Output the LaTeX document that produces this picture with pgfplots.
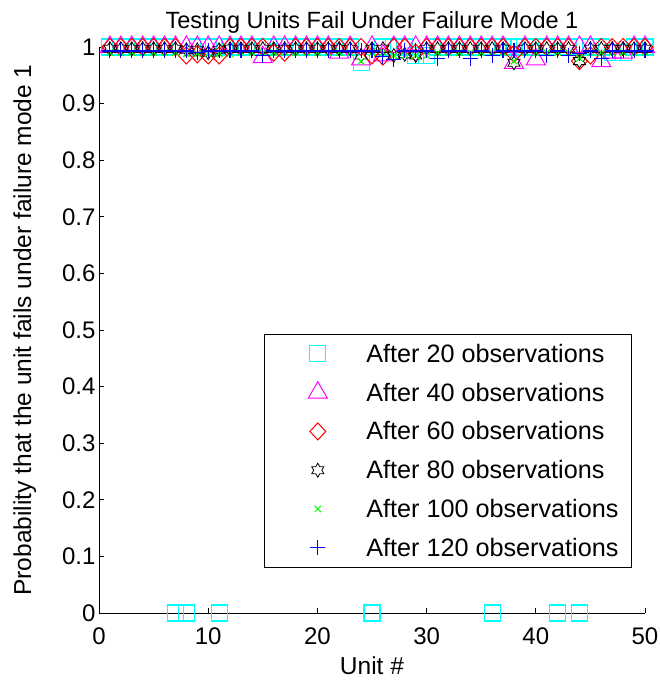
\documentclass[border=0pt]{standalone}
\usepackage{fontspec}
\setmainfont{Liberation Sans}
\usepackage{pgfplots}
\pgfplotsset{compat=1.18}
\usepackage{pgfplotstable}

\definecolor{mcyan}{rgb}{0,1,1}
\definecolor{mmag}{rgb}{1,0,1}
\definecolor{mgreen}{rgb}{0,1,0}
\definecolor{mblue}{rgb}{0,0,1}

% six-pointed star, like MATLAB's hexagram marker
\pgfdeclareplotmark{hexagram}{%
  \pgfpathmoveto{\pgfpointpolar{90}{\pgfplotmarksize}}%
  \pgfpathlineto{\pgfpointpolar{120}{0.577\pgfplotmarksize}}%
  \pgfpathlineto{\pgfpointpolar{150}{\pgfplotmarksize}}%
  \pgfpathlineto{\pgfpointpolar{180}{0.577\pgfplotmarksize}}%
  \pgfpathlineto{\pgfpointpolar{210}{\pgfplotmarksize}}%
  \pgfpathlineto{\pgfpointpolar{240}{0.577\pgfplotmarksize}}%
  \pgfpathlineto{\pgfpointpolar{270}{\pgfplotmarksize}}%
  \pgfpathlineto{\pgfpointpolar{300}{0.577\pgfplotmarksize}}%
  \pgfpathlineto{\pgfpointpolar{330}{\pgfplotmarksize}}%
  \pgfpathlineto{\pgfpointpolar{0}{0.577\pgfplotmarksize}}%
  \pgfpathlineto{\pgfpointpolar{30}{\pgfplotmarksize}}%
  \pgfpathlineto{\pgfpointpolar{60}{0.577\pgfplotmarksize}}%
  \pgfpathclose\pgfusepathqstroke}

% legend image: the mark alone, with room on both sides as in the original
\pgfplotsset{lg/.style={legend image code/.code={%
  \path (-42pt,0pt) (46pt,0pt);
  \draw[##1] plot coordinates {(0pt,0pt)};}}}

% unit, probability after 20/40/60/80/100/120 observations
\pgfplotstableread{
u  a20   a40   a60   a80   a100  a120
1  1     1     1     0.997 0.99  0.993
2  1     1     1     0.997 0.99  0.993
3  1     1     1     0.997 0.99  0.993
4  1     1     1     0.997 0.99  0.993
5  1     1     1     0.997 0.99  0.993
6  1     1     1     0.997 0.99  0.993
7  0     1     1     0.997 0.99  0.993
8  0     1     0.985 0.995 0.988 0.993
9  1     1     0.987 0.995 0.988 0.99
10 1     1     0.985 0.99  0.988 0.993
11 0     1     0.985 0.995 0.988 0.993
12 1     1     1     0.997 0.988 0.993
13 1     1     1     0.997 0.99  0.993
14 1     1     1     0.997 0.99  0.993
15 1     0.982 1     0.997 0.99  0.985
16 1     1     0.99  0.997 0.99  0.993
17 1     1     0.99  0.997 0.99  0.993
18 1     1     1     0.997 0.99  0.993
19 1     1     1     0.997 0.99  0.993
20 1     1     1     0.997 0.99  0.993
21 1     1     1     0.997 0.99  0.993
22 1     0.99  1     0.997 0.99  0.993
23 1     1     1     0.997 0.99  0.993
24 0.973 0.978 1     0.985 0.975 0.993
25 0     1     0.985 0.997 0.99  0.993
26 1     0.985 0.983 0.997 0.99  0.983
27 1     1     1     0.985 0.985 0.978
28 1     1     1     0.987 0.985 0.993
29 0.985 1     0.99  0.985 0.985 0.993
30 0.985 1     1     0.997 0.985 0.993
31 1     1     1     0.997 0.99  0.98
32 1     1     1     0.997 0.99  0.993
33 1     1     1     0.997 0.99  0.993
34 1     1     1     0.997 0.99  0.98
35 1     1     1     0.997 0.99  0.993
36 0     1     1     0.997 0.99  0.985
37 1     1     1     0.997 0.99  0.993
38 1     0.972 0.988 0.972 0.975 0.993
39 1     1     1     0.997 0.99  0.993
40 1     0.978 1     0.997 0.99  0.993
41 1     1     1     0.997 0.99  0.985
42 0     1     1     0.997 0.99  0.993
43 1     1     1     0.997 0.99  0.985
44 0     1     0.975 0.975 0.98  0.988
45 1     1     0.985 0.997 0.99  0.993
46 1     0.975 1     0.997 0.99  0.98
47 0.99  0.99  1     0.997 0.99  0.993
48 0.99  0.99  1     0.997 0.99  0.993
49 1     1     1     0.997 0.99  0.993
50 1     1     1     0.997 0.99  0.993
}\units

\begin{document}
\begin{tikzpicture}
\begin{axis}[
    name=ax,
    scale only axis,
    width=546pt, height=566pt,
    xmin=0, xmax=50, ymin=0, ymax=1,
    clip=false,
    axis lines=left,
    axis line style={-, line width=0.8pt},
    tick align=inside,
    major tick length=5pt,
    tick style={black, line width=0.8pt},
    xtick={0,10,20,30,40,50},
    ytick={0,0.1,0.2,0.3,0.4,0.5,0.6,0.7,0.8,0.9,1},
    yticklabels={0,0.1,0.2,0.3,0.4,0.5,0.6,0.7,0.8,0.9,1},
    /pgf/number format/assume math mode=true,
    ticklabel style={font=\fontsize{24}{28}\selectfont},
    xticklabel style={yshift=-11pt},
    title={Testing Units Fail Under Failure Mode 1},
    title style={font=\fontsize{23.5}{28}\selectfont, at={(axis description cs:0.5,1.047)}, anchor=center, yshift=-8pt},
    xlabel={Unit \#},
    ylabel={Probability that the unit fails under failure mode 1},
    label style={font=\fontsize{24.5}{28}\selectfont},
    xlabel style={at={(axis description cs:0.5,-0.093)}, anchor=center},
    ylabel style={at={(axis description cs:-0.136,0.5)}, anchor=center},
    legend style={at={(0.976,0.0795)}, anchor=south east, draw=black, line width=0.8pt,
        font=\fontsize{25.2}{30}\selectfont, legend cell align=left, row sep=15pt,
        inner ysep=8pt, inner xsep=11pt},
]
\addplot[only marks, lg, mcyan, mark=square, mark size=8pt, line width=1.1pt] table[x=u, y=a20] {\units};
\addlegendentry{After 20 observations}
\addplot[only marks, lg, mmag, mark=triangle, mark size=11pt, line width=1pt] table[x=u, y=a40] {\units};
\addlegendentry{After 40 observations}
\addplot[only marks, lg, red, mark=diamond, mark size=8.5pt, mark options={xscale=1.25}, line width=1pt] table[x=u, y=a60] {\units};
\addlegendentry{After 60 observations}
\addplot[only marks, lg, black, mark=hexagram, mark size=7pt, line width=0.8pt] table[x=u, y=a80] {\units};
\addlegendentry{After 80 observations}
\addplot[only marks, lg, mgreen, mark=x, mark size=4.5pt, line width=1pt] table[x=u, y=a100] {\units};
\addlegendentry{After 100 observations}
\addplot[only marks, lg, mblue, mark=+, mark size=7.5pt, line width=1.1pt] table[x=u, y=a120] {\units};
\addlegendentry{After 120 observations}
\end{axis}
\pgfresetboundingbox
\path[use as bounding box] ([xshift=-99pt,yshift=-70pt]ax.south west) rectangle ([xshift=14pt,yshift=47pt]ax.north east);
\end{tikzpicture}
\end{document}
